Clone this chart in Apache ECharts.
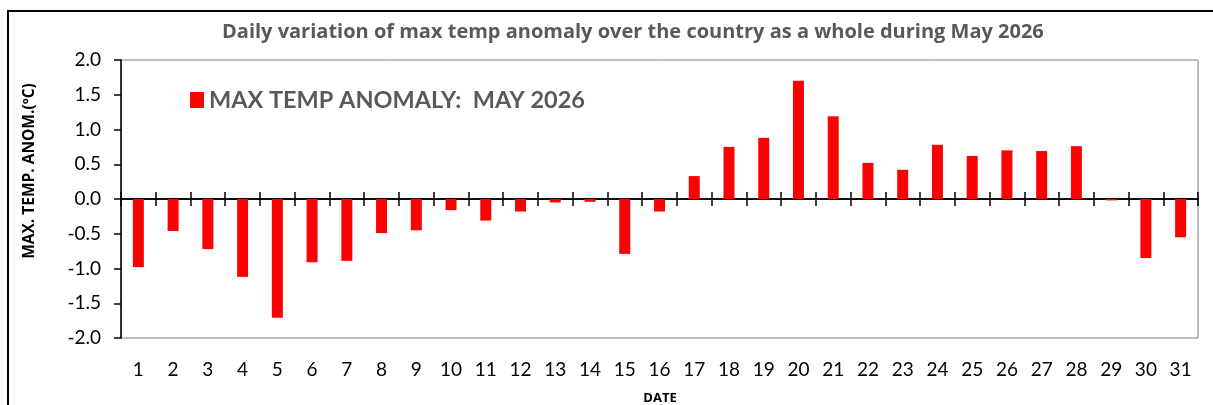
<!DOCTYPE html>
<html>
<head>
<meta charset="utf-8">
<script src="https://cdn.jsdelivr.net/npm/echarts@6/dist/echarts.min.js"></script>
<style>
html,body{margin:0;padding:0;background:#fff;}
#chart{width:1213px;height:405px;}
</style>
</head>
<body>
<div id="chart"></div>
<script>
var days = ['1','2','3','4','5','6','7','8','9','10','11','12','13','14','15','16','17','18','19','20','21','22','23','24','25','26','27','28','29','30','31'];
var anomaly = [-0.98,-0.46,-0.72,-1.12,-1.71,-0.91,-0.89,-0.49,-0.45,-0.16,-0.31,-0.18,-0.05,-0.04,-0.79,-0.18,0.33,0.75,0.88,1.70,1.19,0.52,0.42,0.78,0.62,0.70,0.69,0.76,-0.02,-0.85,-0.55];
var yTicks = {min:-2, max:2, step:0.5};
var titleText = 'Daily variation of max temp anomaly over the country as a whole during May 2026';
var seriesName = 'MAX TEMP ANOMALY:  MAY 2026';
var yName = 'MAX. TEMP. ANOM.(\u00BAC)';
var xName = 'DATE';

var chart = echarts.init(document.getElementById('chart'), null, {renderer:'canvas'});
var font = 'Lato, "Open Sans", sans-serif';
var font2 = '"Open Sans", sans-serif';
var gridPos = {left:121, right:15, top:60, bottom:67};
function g(show){ return Object.assign({show:show, borderColor:'#7f7f7f', borderWidth:1}, gridPos); }
function yAx(i, visible){
  return {type:'value', gridIndex:i, min:yTicks.min, max:yTicks.max, interval:yTicks.step, show:visible,
    axisLine:{show:visible, onZero:false, lineStyle:{color:'#000', width:1.5}},
    axisTick:{show:visible, inside:false, length:7, lineStyle:{color:'#000', width:1.5}},
    axisLabel:{show:visible, margin:20, fontFamily:font, fontSize:19, color:'#000', formatter:function(v){return v.toFixed(1);}},
    splitLine:{show:false}};
}
chart.setOption({
  animation:false,
  backgroundColor:'#fff',
  title:{text:titleText, left:217, top:17,
    textStyle:{fontFamily:font2, fontSize:20, fontWeight:'bold', color:'#595959'}},
  legend:{data:[seriesName], left:185, top:83, icon:'rect', itemWidth:14, itemHeight:16,
    textStyle:{fontFamily:font, fontSize:23.5, fontWeight:'bold', color:'#595959'}},
  grid:[g(true), g(false), g(false)],
  graphic:[
    {type:'rect', shape:{x:8, y:11, width:1300, height:500}, style:{fill:null, stroke:'#000', lineWidth:2}, silent:true},
    {type:'text', x:30, y:171, rotation:Math.PI/2,
      style:{text:yName, font:'bold 15.5px ' + font2, fill:'#000', textAlign:'center', textVerticalAlign:'middle'}},
    {type:'text', x:660, y:398,
      style:{text:xName, font:'bold 13px ' + font2, fill:'#000', textAlign:'center', textVerticalAlign:'middle'}}
  ],
  xAxis:[
    {type:'category', gridIndex:0, data:days, position:'bottom',
      axisLine:{show:true, onZero:true, lineStyle:{color:'#000', width:1.5}},
      axisTick:{show:true, inside:true, interval:0, length:7, lineStyle:{color:'#000', width:1.5}},
      axisLabel:{show:false}, splitLine:{show:false}},
    {type:'category', gridIndex:1, data:days, position:'bottom',
      axisLine:{show:true, onZero:true, lineStyle:{color:'#000', width:1.5}},
      axisTick:{show:true, inside:false, interval:0, length:7, lineStyle:{color:'#000', width:1.5}},
      axisLabel:{show:false}, splitLine:{show:false}},
    {type:'category', gridIndex:2, data:days, position:'bottom',
      axisLine:{show:false, onZero:false},
      axisTick:{show:false},
      axisLabel:{show:true, interval:0, margin:22, fontFamily:font, fontSize:19, color:'#000'},
      splitLine:{show:false}}
  ],
  yAxis:[yAx(0, true), yAx(1, false), yAx(2, false)],
  series:[{name:seriesName, type:'bar', xAxisIndex:0, yAxisIndex:0, data:anomaly, barWidth:11,
    itemStyle:{color:'#ff0000'}}]
});
</script>
</body>
</html>
